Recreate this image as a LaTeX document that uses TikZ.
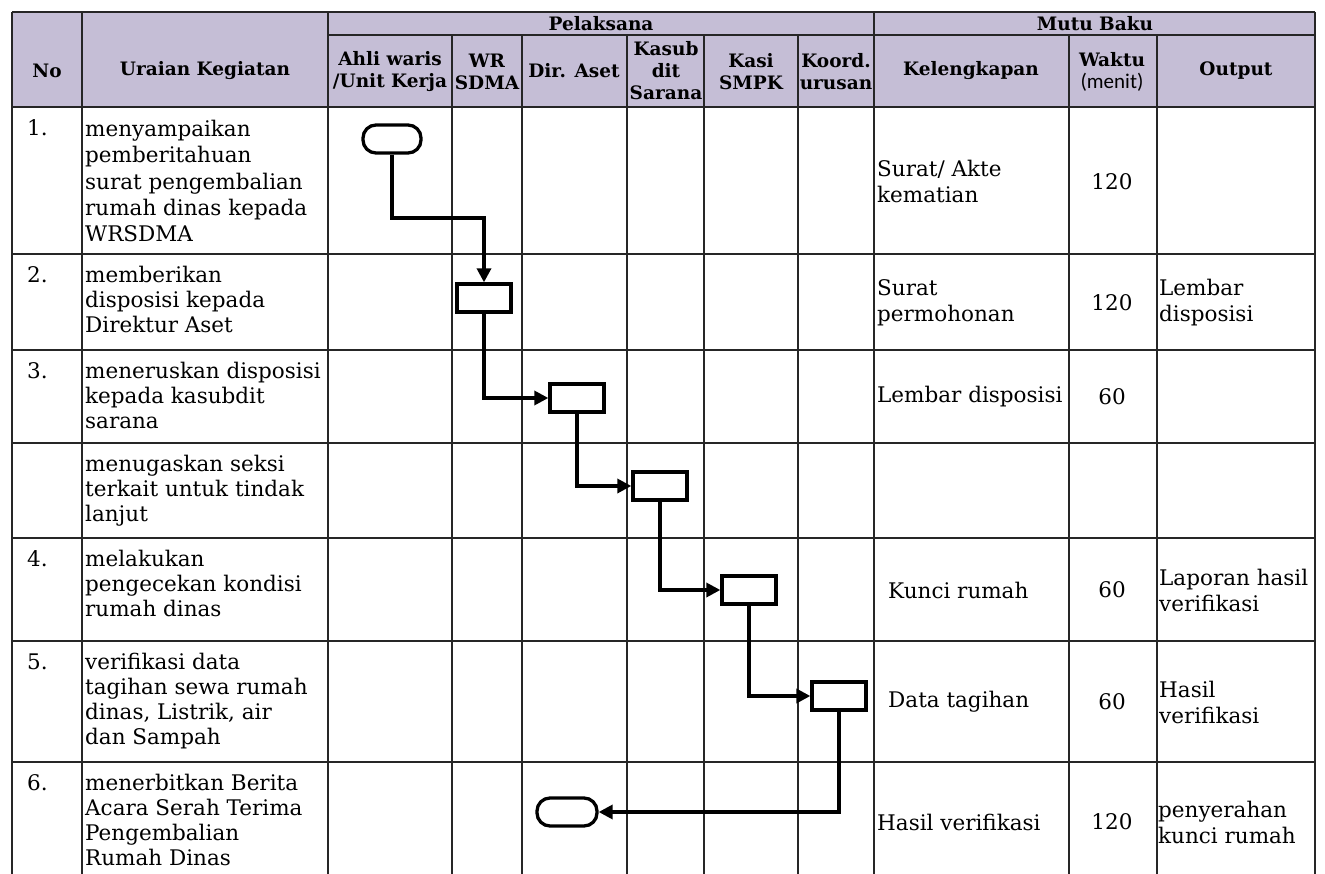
\documentclass[tikz,border=0pt]{standalone}
\usepackage{fontspec}
\setmainfont{DejaVu Serif}
\newfontfamily\menitfont{Carlito}
\usetikzlibrary{arrows.meta}
\definecolor{hdr}{RGB}{197,190,214}
\begin{document}
\begin{tikzpicture}[x=1pt,y=-1pt,
  grid/.style={line width=1.5pt, draw=black!85},
  hd/.style={font=\fontsize{18.5}{22}\selectfont\bfseries, align=center, inner sep=0},
  body/.style={font=\fontsize{21.5}{25}\selectfont, align=left, inner sep=0, anchor=north west},
  cell/.style={font=\fontsize{21.5}{26}\selectfont, align=left, inner sep=0, anchor=west},
  wkt/.style={font=\fontsize{21.5}{26}\selectfont, inner sep=0, anchor=center},
  box/.style={draw, line width=3.3pt, minimum width=54pt, minimum height=28pt, inner sep=0},
  term/.style={box, rounded corners=13pt, minimum width=58pt},
  flow/.style={line width=3.3pt, -{Triangle[length=14pt,width=14pt]}},
  ]
\useasboundingbox (0,0) rectangle (1325,874);
\fill[white] (0,0) rectangle (1325,874);
\fill[hdr] (12,12) rectangle (1315,107);
% horizontal lines
\draw[grid] (12,12) -- (1315,12);
\draw[grid] (328,35) -- (1315,35);
\foreach \y in {107,254,350,443,538,641,762}{\draw[grid] (12,\y) -- (1315,\y);}
% vertical lines
\foreach \x in {12,82,328,874,1315}{\draw[grid] (\x,12) -- (\x,874);}
\foreach \x in {452,522,627,704,798,1069,1157}{\draw[grid] (\x,35) -- (\x,874);}
% header
\node[hd] (hNo) at (47,71) {No};
\node[hd] (hUr) at (205,71) {Uraian Kegiatan};
\node[hd] (hPel) at (601,24) {Pelaksana};
\node[hd] (hMut) at (1095,24) {Mutu Baku};
\node[hd] (hAhli) at (390,72) {Ahli waris\\/Unit Kerja};
\node[hd] (hWR) at (487,72) {WR\\SDMA};
\node[hd] (hDir) at (574,71) {Dir. Aset};
\node[hd] (hKasub) at (666,71) {Kasub\\dit\\Sarana};
\node[hd] (hKasi) at (751,72) {Kasi\\SMPK};
\node[hd] (hKoord) at (836,72) {Koord.\\urusan};
\node[hd] (hKel) at (971,71) {Kelengkapan};
\node[hd] (hWak) at (1112,72) {Waktu\\{\menitfont\mdseries\fontsize{21}{22}\selectfont (menit)}};
\node[hd] (hOut) at (1236,71) {Output};
% numbers
\node[body] (n1) at (27,118) {\strut 1.};
\node[body] (n2) at (27,265) {\strut 2.};
\node[body] (n3) at (27,361) {\strut 3.};
\node[body] (n4) at (27,549) {\strut 4.};
\node[body] (n5) at (27,652) {\strut 5.};
\node[body] (n6) at (27,773) {\strut 6.};
% uraian
\node[body, font=\fontsize{21.5}{26.3}\selectfont] (u1) at (85,118) {\strut menyampaikan\\pemberitahuan\\surat pengembalian\\rumah dinas kepada\\WRSDMA};
\node[body] (u2) at (85,265) {\strut memberikan\\disposisi kepada\\Direktur Aset};
\node[body] (u3) at (85,361) {\strut meneruskan disposisi\\kepada kasubdit\\sarana};
\node[body] (u3b) at (85,454) {\strut menugaskan seksi\\terkait untuk tindak\\lanjut};
\node[body] (u4) at (85,549) {\strut melakukan\\pengecekan kondisi\\rumah dinas};
\node[body] (u5) at (85,652) {\strut verifikasi data\\tagihan sewa rumah\\dinas, Listrik, air\\dan Sampah};
\node[body] (u6) at (85,773) {\strut menerbitkan Berita\\Acara Serah Terima\\Pengembalian\\Rumah Dinas};
% kelengkapan
\node[cell] (k1) at (877,181) {Surat/ Akte\\kematian};
\node[cell] (k2) at (877,303) {Surat\\permohonan};
\node[cell] (k3) at (877,397) {Lembar disposisi};
\node[cell] (k4) at (888,590) {Kunci rumah};
\node[cell] (k5) at (888,702) {Data tagihan};
\node[cell] (k6) at (877,822) {Hasil verifikasi};
% waktu
\node[wkt] (w1) at (1112,182) {120};
\node[wkt] (w2) at (1112,303) {120};
\node[wkt] (w3) at (1112,397) {60};
\node[wkt] (w4) at (1112,590) {60};
\node[wkt] (w5) at (1112,702) {60};
\node[wkt] (w6) at (1112,822) {120};
% output
\node[cell] (o2) at (1159,303) {Lembar\\disposisi};
\node[cell] (o4) at (1159,590) {Laporan hasil\\verifikasi};
\node[cell] (o5) at (1159,702) {Hasil\\verifikasi};
\node[cell] (o6) at (1158,822) {penyerahan\\kunci rumah};
% flowchart
\node[term] (t1) at (392,139) {};
\node[box] (b2) at (484,298) {};
\node[box] (b3) at (577,398) {};
\node[box] (b4) at (660,486) {};
\node[box] (b5) at (749,590) {};
\node[box] (b6) at (839,696) {};
\node[term, minimum width=60pt] (t2) at (567,812) {};
\coordinate (c1) at (484,218);
\draw[flow] (t1.south) |- (c1) -- (b2.north);
\draw[flow] (b2.south) |- (b3.west);
\draw[flow] (b3.south) |- (b4.west);
\draw[flow] (b4.south) |- (b5.west);
\draw[flow] (b5.south) |- (b6.west);
\draw[flow] (b6.south) |- (t2.east);
\end{tikzpicture}
\end{document}
